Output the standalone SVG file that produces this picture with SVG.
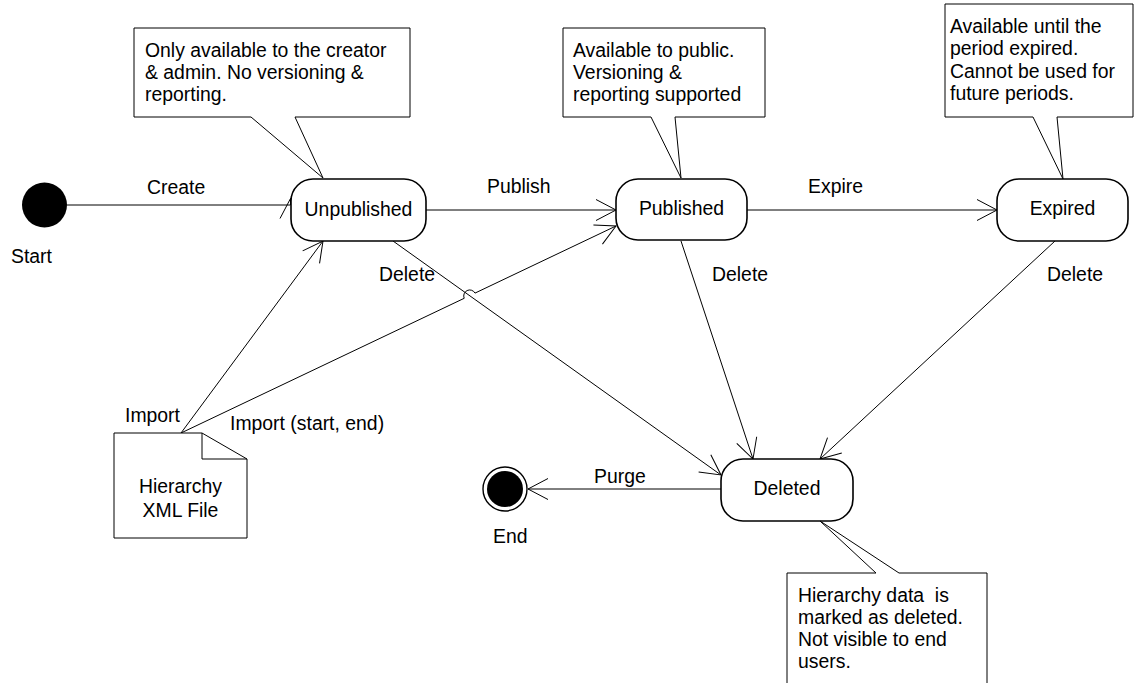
<svg xmlns="http://www.w3.org/2000/svg" width="1135" height="683" viewBox="0 0 1135 683">
<style>
text{font-family:"Liberation Sans",Arial,sans-serif;font-size:19.4px;fill:#000}
.mid{text-anchor:middle}
.state{fill:#fff;stroke:#000;stroke-width:1.6}
.note{fill:#fff;stroke:#000;stroke-width:1}
.conn{fill:none;stroke:#000;stroke-width:1;marker-end:url(#arr)}
.plain{fill:none;stroke:#000;stroke-width:1}
</style>
<defs>
<marker id="arr" viewBox="-22 -12 24 24" refX="0" refY="0" markerWidth="24" markerHeight="24" markerUnits="userSpaceOnUse" orient="auto">
<path d="M-20,-10.5 L0,0 L-20,10.5" fill="none" stroke="#000" stroke-width="1"/>
</marker>
</defs>
<rect width="1135" height="683" fill="#fff"/>

<g id="connectors">
<path class="conn" d="M67,205 H290.5 V198.5"/>
<path class="conn" d="M426,210 H616"/>
<path class="conn" d="M747,210 H997"/>
<path class="conn" d="M181,433 L323,241"/>
<path class="conn" d="M181,433 L464.2,298.3 A6,6 0 0 1 475.0,293.1 L616,226"/>
<path class="conn" d="M393,241 L721,475"/>
<path class="conn" d="M681,241 L753,459"/>
<path class="conn" d="M1055,241 L820,459"/>
<path class="conn" d="M721,489 H528"/>
<text x="147" y="194">Create</text>
<text x="487" y="193">Publish</text>
<text x="808" y="193">Expire</text>
<text x="379" y="281">Delete</text>
<text x="712" y="281">Delete</text>
<text x="1047" y="281">Delete</text>
<text x="594" y="483">Purge</text>
<text x="125" y="422">Import</text>
<text x="230" y="430">Import (start, end)</text>
</g>

<g id="start">
<circle cx="44.5" cy="205" r="22.5" fill="#000"/>
<text x="11" y="263">Start</text>
</g>

<g id="end">
<circle cx="505" cy="489" r="22" fill="#fff" stroke="#000" stroke-width="1.4"/>
<circle cx="505" cy="489" r="18" fill="#000"/>
<text x="493" y="543">End</text>
</g>

<g id="unpublished">
<rect class="state" x="291" y="179" width="135" height="62" rx="22" ry="22"/>
<text class="mid" x="358.5" y="216">Unpublished</text>
</g>

<g id="published">
<rect class="state" x="616" y="179" width="131" height="61" rx="22" ry="22"/>
<text class="mid" x="681.5" y="215">Published</text>
</g>

<g id="expired">
<rect class="state" x="997" y="179" width="131" height="62" rx="22" ry="22"/>
<text class="mid" x="1062.5" y="215">Expired</text>
</g>

<g id="deleted">
<rect class="state" x="721" y="459" width="132" height="62" rx="22" ry="22"/>
<text class="mid" x="787" y="495">Deleted</text>
</g>

<g id="file">
<path class="note" d="M114,433 H202 L247,459 V538 H114 Z"/>
<path class="plain" d="M202,433 V459 H247"/>
<text class="mid" x="180.5" y="493">Hierarchy</text>
<text class="mid" x="180.5" y="517">XML File</text>
</g>

<g id="note-unpublished">
<path class="note" d="M134,28 H410 V117 H295 L323,178 L251,117 H134 Z"/>
<text x="145" y="57">Only available to the creator</text>
<text x="145" y="79">&amp; admin. No versioning &amp;</text>
<text x="145" y="101">reporting.</text>
</g>

<g id="note-published">
<path class="note" d="M563,28 H765 V117 H675 L681,178 L651,117 H563 Z"/>
<text x="573" y="57">Available to public.</text>
<text x="573" y="79">Versioning &amp;</text>
<text x="573" y="101">reporting supported</text>
</g>

<g id="note-expired">
<path class="note" d="M945,4 H1133 V117 H1057 L1063,179 L1033,117 H945 Z"/>
<text x="950" y="33">Available until the</text>
<text x="950" y="55">period expired.</text>
<text x="950" y="78">Cannot be used for</text>
<text x="950" y="100">future periods.</text>
</g>

<g id="note-deleted">
<path class="note" d="M787,573 H876 L820,521 L899,573 H987 V686 H787 Z"/>
<text x="798" y="602" xml:space="preserve">Hierarchy data  is</text>
<text x="798" y="624">marked as deleted.</text>
<text x="798" y="646">Not visible to end</text>
<text x="798" y="668">users.</text>
</g>
</svg>
